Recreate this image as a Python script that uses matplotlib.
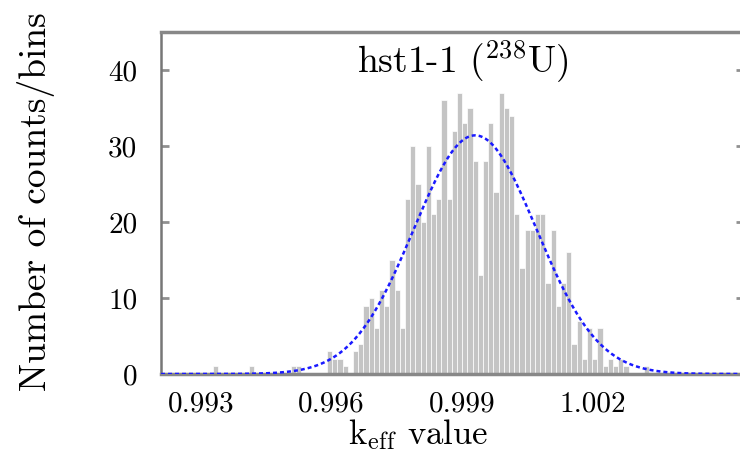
import numpy as np
import matplotlib
matplotlib.use('Agg')
import matplotlib.pyplot as plt

plt.rcParams['font.family'] = ['cmr10', 'DejaVu Serif']
plt.rcParams['mathtext.fontset'] = 'cm'
plt.rcParams['axes.unicode_minus'] = False

# histogram of keff values (counts per bin)
bin_start = 0.993273
bin_width = 0.0001194
counts = [1, 0, 0, 0, 0, 0, 0, 1, 0, 0, 0, 0, 0, 0, 0, 1, 1, 0, 0, 0,
          0, 0, 3, 2, 2, 1, 0, 3, 4, 9, 10, 6, 11, 9, 15, 11, 6,
          23, 30, 25, 20, 30, 21, 23, 36, 23, 32, 37, 33, 35, 28, 13, 28, 33, 24,
          37, 35, 34, 21, 14, 19, 19, 21, 21, 12, 19, 9, 12, 16, 4, 7, 2, 6, 2, 6,
          1, 2, 1, 2, 1, 0, 0, 0, 1]

# gaussian fit
fit_mu = 0.99930
fit_sigma = 0.00141
fit_peak = 31.4

xticks = [0.993, 0.996, 0.999, 1.002]
yticks = [0, 10, 20, 30, 40]

fig = plt.figure(figsize=(7.4, 4.57), dpi=100)
ax = fig.add_axes([0.2176, 0.1816, 0.788, 0.7484])

edges = bin_start + bin_width * np.arange(len(counts) + 1)
ax.bar(edges[:-1], counts, width=bin_width, align='edge',
       color='#c4c4c4', edgecolor='white', linewidth=0.5, zorder=2)

xlo, xhi = 0.992086, 1.005478
x = np.linspace(xlo, xhi, 600)
y = fit_peak * np.exp(-0.5 * ((x - fit_mu) / fit_sigma) ** 2)
ax.plot(x, y, color='#1a1aff', linestyle=(0, (1.6, 1.2)), linewidth=1.8, zorder=4)

ax.set_xlim(xlo, xhi)
ax.set_ylim(0, 45)
ax.set_xticks(xticks)
ax.set_xticklabels(['%.3f' % v for v in xticks])
ax.set_yticks(yticks)

ax.tick_params(axis='x', length=0, pad=12, labelsize=21)
ax.tick_params(axis='y', direction='in', length=6, width=2, color='#909090',
               pad=17, labelsize=21, right=True)

for side in ['top', 'bottom']:
    ax.spines[side].set_color('#888888')
    ax.spines[side].set_linewidth(2.5)
ax.spines['left'].set_color('#777777')
ax.spines['left'].set_linewidth(1.8)
ax.spines['right'].set_visible(False)
ax.spines['bottom'].set_zorder(3)

ax.text(0.517, 0.879, r'hst1-1 ($^{238}$U)', transform=ax.transAxes,
        ha='center', va='baseline', fontsize=27)

ax.set_xlabel(r'k$_{\rm eff}$ value', fontsize=25)
ax.xaxis.set_label_coords(0.441, -0.125)
ax.set_ylabel('Number of counts/bins', fontsize=27)
ax.yaxis.set_label_coords(-0.182, 0.503)

plt.savefig('out.png', dpi=100)
